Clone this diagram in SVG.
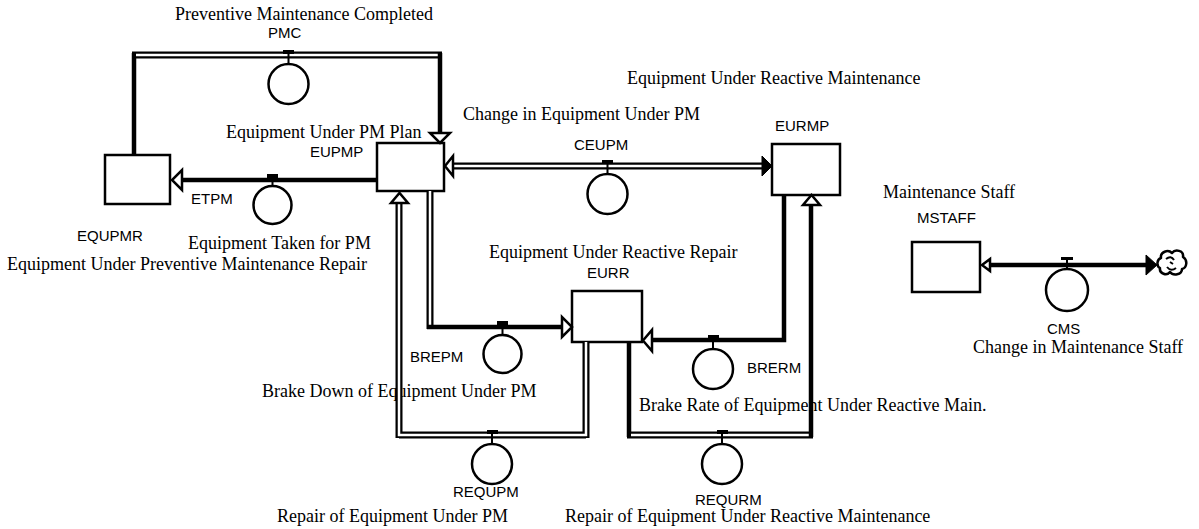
<svg xmlns="http://www.w3.org/2000/svg" width="1199" height="529" viewBox="0 0 1199 529">
<style>
.bg{fill:#fff}
.box{fill:#fff;stroke:#000;stroke-width:2.5}
.aux{fill:none;stroke:#000;stroke-width:2.5}
.stem{stroke:#000;stroke-width:2}
.bar{fill:#000}
.solid{fill:none;stroke:#000;stroke-width:4.5}
.dblo{fill:none;stroke:#000;stroke-width:7}
.dbli{fill:none;stroke:#fff;stroke-width:2.5}
.hollow{fill:#fff;stroke:#000;stroke-width:2.5;stroke-linejoin:miter}
.filled{fill:#000;stroke:#000;stroke-width:1}
.serif{font-family:"Liberation Serif","Times New Roman",serif;font-size:18px;fill:#000}
.sans{font-family:"Liberation Sans",Arial,sans-serif;font-size:15px;fill:#000}
.cloud{fill:#fff;stroke:#000;stroke-width:2.5;stroke-linejoin:round}
</style>
<rect class="bg" x="0" y="0" width="1199" height="529"/>

<g id="EQUPMR">
<rect class="box" x="105" y="155" width="65" height="49"/>
<text class="sans" x="77" y="241">EQUPMR</text>
<text class="serif" x="7" y="270">Equipment Under Preventive Maintenance Repair</text>
</g>

<g id="EUPMP">
<rect class="box" x="377" y="143" width="67" height="48"/>
<text class="serif" x="226" y="138">Equipment Under PM Plan</text>
<text class="sans" x="310" y="157">EUPMP</text>
</g>

<g id="EURMP">
<rect class="box" x="772" y="144" width="68" height="51"/>
<text class="serif" x="627" y="84">Equipment Under Reactive Maintenance</text>
<text class="sans" x="775" y="131">EURMP</text>
</g>

<g id="EURR">
<rect class="box" x="572" y="291" width="70" height="51"/>
<text class="serif" x="489" y="258">Equipment Under Reactive Repair</text>
<text class="sans" x="587" y="278">EURR</text>
</g>

<g id="MSTAFF">
<rect class="box" x="912" y="242" width="68" height="50"/>
<text class="serif" x="883" y="198">Maintenance Staff</text>
<text class="sans" x="917" y="223">MSTAFF</text>
</g>

<g id="PMC">
<text class="serif" x="175" y="20">Preventive Maintenance Completed</text>
<text class="sans" x="268" y="38">PMC</text>
</g>

<g id="ETPM">
<text class="sans" x="191" y="204">ETPM</text>
<text class="serif" x="188" y="249">Equipment Taken for PM</text>
</g>

<g id="CEUPM">
<text class="serif" x="463" y="120">Change in Equipment Under PM</text>
<text class="sans" x="574" y="150">CEUPM</text>
</g>

<g id="BREPM">
<text class="sans" x="410" y="362">BREPM</text>
<text class="serif" x="262" y="397">Brake Down of Equipment Under PM</text>
</g>

<g id="BRERM">
<text class="sans" x="747" y="373">BRERM</text>
<text class="serif" x="639" y="411">Brake Rate of Equipment Under Reactive Main.</text>
</g>

<g id="REQUPM">
<text class="sans" x="453" y="497">REQUPM</text>
<text class="serif" x="277" y="522">Repair of Equipment Under PM</text>
</g>

<g id="REQURM">
<text class="sans" x="695" y="505">REQURM</text>
<text class="serif" x="565" y="522">Repair of Equipment Under Reactive Maintenance</text>
</g>

<g id="CMS">
<text class="sans" x="1047" y="334">CMS</text>
<text class="serif" x="973" y="353">Change in Maintenance Staff</text>
</g>

<g id="connectors">
<!-- PMC: EQUPMR -> EUPMP -->
<path class="solid" d="M134,155 V53"/>
<path class="dblo" d="M132,55 H442"/>
<path class="dbli" d="M136,55 H438"/>
<path class="solid" d="M440,53 V133"/>
<polygon class="hollow" points="430,133 450,133 440,143"/>
<!-- ETPM: EUPMP -> EQUPMR -->
<path class="solid" d="M377,180 H182"/>
<polygon class="hollow" points="182,170 182,190 172,180"/>
<!-- CEUPM: bi-flow EUPMP <-> EURMP -->
<path class="dblo" d="M452,166 H762"/>
<path class="dbli" d="M452,166 H762"/>
<polygon class="hollow" points="453,156 453,176 445,166"/>
<polygon class="filled" points="762,156 762,176 772,166"/>
<!-- BREPM: EUPMP -> EURR -->
<path class="dblo" d="M430,191 V329"/>
<path class="dbli" d="M430,191 V329"/>
<path class="solid" d="M427,327 H562"/>
<polygon class="hollow" points="562,317 562,337 572,327"/>
<!-- REQUPM: EURR -> EUPMP -->
<path class="dblo" d="M586,342 V438 M586,435 H399 M399,438 V203"/>
<path class="dbli" d="M586,342 V435 H399 V203"/>
<polygon class="hollow" points="391,203 408,203 399.5,193"/>
<!-- REQURM: EURR -> EURMP -->
<path class="solid" d="M629,342 V437"/>
<path class="dblo" d="M627,435 H813"/>
<path class="dbli" d="M631,435 H809"/>
<path class="solid" d="M811,437 V205"/>
<polygon class="hollow" points="803,205 820,205 811.5,195"/>
<!-- BRERM: EURMP -> EURR -->
<path class="solid" d="M784,195 V340 H652"/>
<polygon class="hollow" points="652,330 652,351 643,340.5"/>
<!-- CMS: cloud -> MSTAFF -->
<path class="solid" d="M990,265 H1147"/>
<polygon class="hollow" points="990,259 990,271 982,265"/>
<polygon class="filled" points="1146,255 1146,275 1157,265"/>
<path class="cloud" d="M1161,258 c-1,-6 7,-9 11,-5 c3,-4 12,-3 11,4 c5,3 4,11 -1,12 c0,6 -9,7 -12,3 c-3,4 -11,2 -10,-4 c-4,-2 -3,-9 1,-10 z"/>
<path class="aux" d="M1166,259 q5,-4 8,1 M1176,268 q-5,4 -9,-1 M1170,262 l3,2" style="stroke-width:2"/>
</g>

<g id="valves">
<!-- PMC -->
<rect class="bar" x="283" y="50" width="11" height="4"/>
<line class="stem" x1="288.5" y1="54" x2="288.5" y2="64"/>
<circle class="aux" cx="288.5" cy="84" r="20"/>
<!-- ETPM -->
<rect class="bar" x="267" y="174" width="11" height="4"/>
<line class="stem" x1="272.5" y1="178" x2="272.5" y2="186"/>
<circle class="aux" cx="272.5" cy="205" r="19"/>
<!-- CEUPM -->
<rect class="bar" x="602" y="160" width="11" height="4"/>
<line class="stem" x1="607.5" y1="164" x2="607.5" y2="174"/>
<circle class="aux" cx="607.5" cy="194" r="20"/>
<!-- BREPM -->
<rect class="bar" x="497" y="321" width="11" height="4"/>
<line class="stem" x1="502.5" y1="325" x2="502.5" y2="335"/>
<circle class="aux" cx="502.5" cy="354" r="19"/>
<!-- BRERM -->
<rect class="bar" x="708" y="335" width="11" height="4"/>
<line class="stem" x1="713" y1="339" x2="713" y2="349"/>
<circle class="aux" cx="713" cy="369" r="20"/>
<!-- REQUPM -->
<rect class="bar" x="487" y="430" width="11" height="4"/>
<line class="stem" x1="492" y1="434" x2="492" y2="444"/>
<circle class="aux" cx="492" cy="464" r="20"/>
<!-- REQURM -->
<rect class="bar" x="717" y="430" width="11" height="4"/>
<line class="stem" x1="722" y1="434" x2="722" y2="444"/>
<circle class="aux" cx="722" cy="464" r="20"/>
<!-- CMS -->
<rect class="bar" x="1061" y="257" width="12" height="3"/>
<line class="stem" x1="1067" y1="260" x2="1067" y2="269"/>
<circle class="aux" cx="1067" cy="290" r="21"/>
</g>
</svg>
